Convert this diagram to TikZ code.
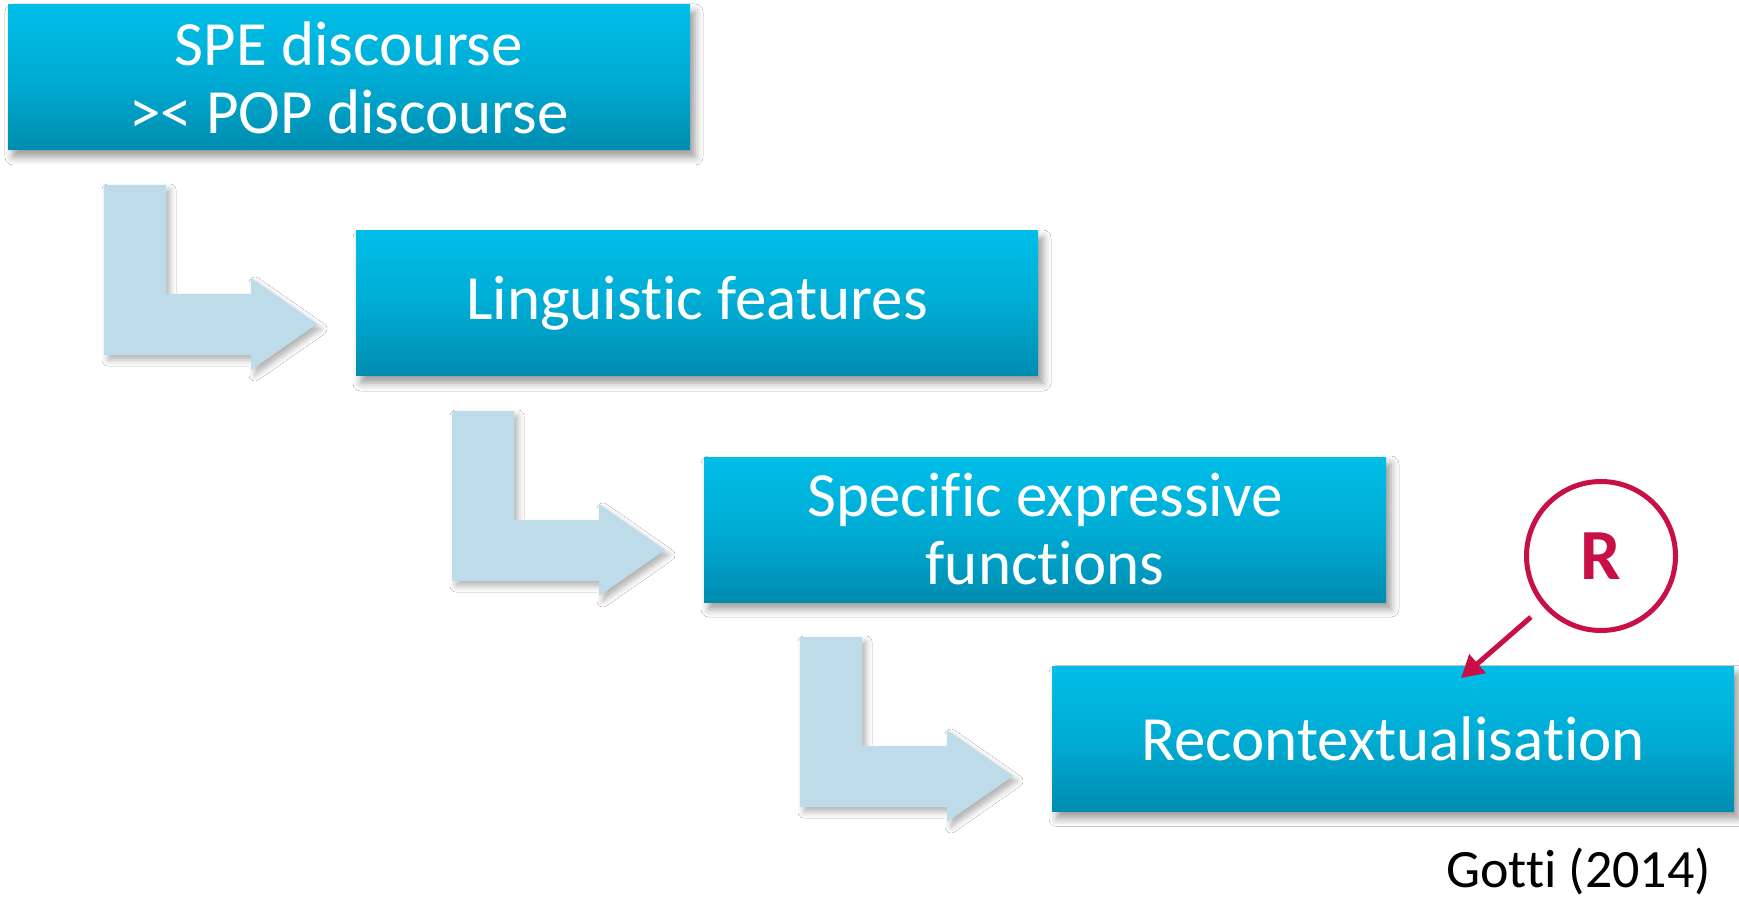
\documentclass[tikz,border=0pt]{standalone}
\usepackage{fontspec}
\setmainfont[Ligatures={NoCommon,NoDiscretionary}]{Carlito}
\usetikzlibrary{arrows.meta,shadows.blur,calc}
\definecolor{boxtop}{RGB}{0,190,232}
\definecolor{boxmid}{RGB}{0,172,212}
\definecolor{boxbot}{RGB}{0,140,175}
\definecolor{arrowblue}{RGB}{189,219,232}
\definecolor{rred}{RGB}{200,16,70}
\begin{document}
\begin{tikzpicture}[x=0.5pt,y=-0.5pt,
  stagebox/.style={rectangle, minimum width=341pt, minimum height=72.5pt, inner sep=0pt,
    top color=boxtop, bottom color=boxbot, middle color=boxmid, text=white,
    font=\fontsize{31.5}{34}\selectfont, align=center,
    blur shadow={shadow xshift=2.5pt, shadow yshift=-3.5pt, shadow blur radius=4pt, shadow opacity=40}},
  bentarrow/.style={fill=arrowblue,
    blur shadow={shadow xshift=2pt, shadow yshift=-2.5pt, shadow blur radius=3pt, shadow opacity=30}},
  rcircle/.style={circle, draw=rred, line width=2.5pt, minimum size=74.5pt, inner sep=0pt,
    text=rred, font=\fontsize{36}{36}\selectfont\bfseries},
  rarrow/.style={draw=rred, line width=2.5pt, -{Triangle[length=11pt,width=12pt]}, shorten <=8pt},
  citation/.style={anchor=base east, font=\fontsize{27}{30}\selectfont, text=black}
]
\fill[white] (0,0) rectangle (1739,898);
\useasboundingbox (0,0) rectangle (1739,898);

% bent arrows
\foreach \i in {0,1,2} {
  \path[bentarrow] ({104+348*\i},{185+226*\i}) -- ++(62,0) -- ++(0,109) -- ++(85,0)
    -- ++(0,-16) -- ++(66,46) -- ++(-66,46) -- ++(0,-15) -- ++(-147,0) -- cycle;
}

% boxes
\node[stagebox] (b1) at (349,77.5) {SPE discourse\\>< POP discourse};
\node[stagebox] (b2) at (697,303.5) {Linguistic features};
\node[stagebox] (b3) at (1045,529.5) {Specific expressive\\functions};
\node[stagebox] (b4) at (1393,739) {Recontextualisation};

% R marker
\node[rcircle] (R) at (1601,556) {R};
\coordinate (rtip) at (1461,678);
\draw[rarrow] (R) -- (rtip);

% citation
\node[citation] (cite) at (1718,887) {Gotti (2014)};
\end{tikzpicture}
\end{document}
